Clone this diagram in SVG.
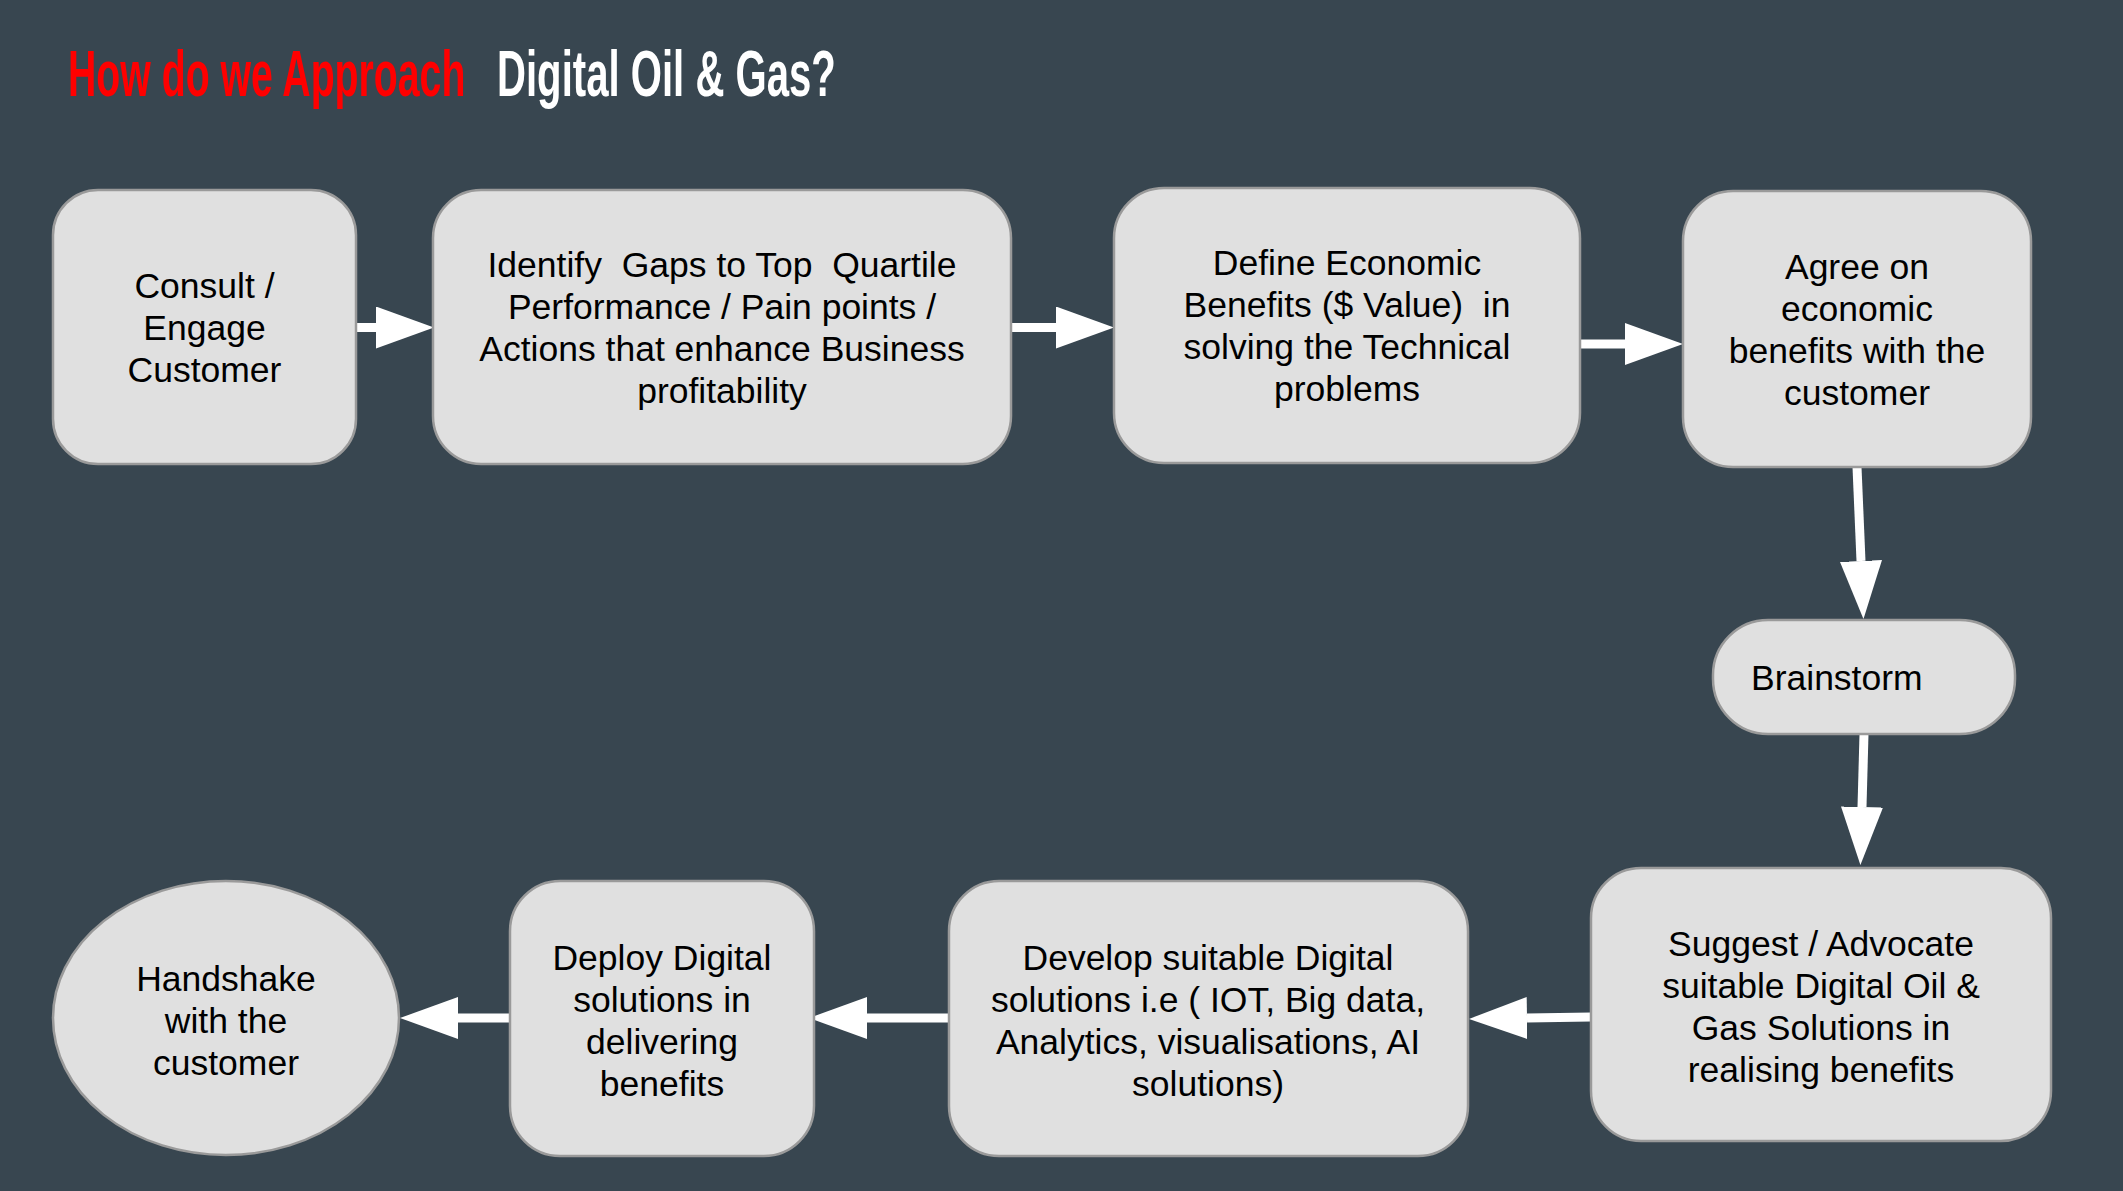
<svg xmlns="http://www.w3.org/2000/svg" width="2123" height="1191" viewBox="0 0 2123 1191">
<defs>
<style>
.bg{fill:#384650}
.node{fill:#e0e0e0;stroke:#9a9a9a;stroke-width:2.5}
.lbl{font-family:"Liberation Sans",Arial,sans-serif;font-size:35.5px;fill:#000;text-anchor:middle;white-space:pre}
.title{font-family:"Liberation Sans",Arial,sans-serif;font-size:64px;font-weight:bold}
.conn{stroke:#fff;stroke-width:9;fill:none;marker-end:url(#head)}
</style>
<marker id="head" markerUnits="userSpaceOnUse" markerWidth="58" markerHeight="42" viewBox="0 0 58 42" refX="0" refY="21" orient="auto">
<path d="M0,0 L58,21 L0,42 z" fill="#fff"/>
</marker>
</defs>
<rect class="bg" x="0" y="0" width="2123" height="1191"/>
<g id="title">
<text class="title" transform="translate(68,96) scale(0.613,1)" x="0" y="0" fill="#ff0000">How do we Approach</text>
<text class="title" transform="translate(497,96) scale(0.627,1)" x="0" y="0" fill="#ffffff">Digital Oil &amp; Gas?</text>
</g>
<g id="connectors">
<path class="conn" d="M356,327.5 L376,327.5"/>
<path class="conn" d="M1011,327.5 L1056,327.5"/>
<path class="conn" d="M1580,344 L1625,344"/>
<path class="conn" d="M1857,467 L1861,561"/>
<path class="conn" d="M1864,734 L1862,807"/>
<path class="conn" d="M1591,1017 L1527,1018"/>
<path class="conn" d="M949,1018 L867,1018"/>
<path class="conn" d="M510,1018 L458,1018"/>
</g>
<g id="consult">
<rect class="node" x="53" y="190" width="303" height="274" rx="45"/>
<text class="lbl" x="204.5" y="298">Consult /</text>
<text class="lbl" x="204.5" y="340">Engage</text>
<text class="lbl" x="204.5" y="382">Customer</text>
</g>
<g id="identify">
<rect class="node" x="433" y="190" width="578" height="274" rx="48"/>
<text class="lbl" x="722" y="277">Identify  Gaps to Top  Quartile</text>
<text class="lbl" x="722" y="319">Performance / Pain points /</text>
<text class="lbl" x="722" y="361">Actions that enhance Business</text>
<text class="lbl" x="722" y="403">profitability</text>
</g>
<g id="define">
<rect class="node" x="1114" y="188" width="466" height="275" rx="50"/>
<text class="lbl" x="1347" y="275">Define Economic</text>
<text class="lbl" x="1347" y="317">Benefits ($ Value)  in</text>
<text class="lbl" x="1347" y="359">solving the Technical</text>
<text class="lbl" x="1347" y="401">problems</text>
</g>
<g id="agree">
<rect class="node" x="1683" y="191" width="348" height="276" rx="50"/>
<text class="lbl" x="1857" y="279">Agree on</text>
<text class="lbl" x="1857" y="321">economic</text>
<text class="lbl" x="1857" y="363">benefits with the</text>
<text class="lbl" x="1857" y="405">customer</text>
</g>
<g id="brainstorm">
<rect class="node" x="1713" y="620" width="302" height="114" rx="55"/>
<text class="lbl" x="1751" y="690" style="text-anchor:start">Brainstorm</text>
</g>
<g id="suggest">
<rect class="node" x="1591" y="868" width="460" height="273" rx="50"/>
<text class="lbl" x="1821" y="956">Suggest / Advocate</text>
<text class="lbl" x="1821" y="998">suitable Digital Oil &amp;</text>
<text class="lbl" x="1821" y="1040">Gas Solutions in</text>
<text class="lbl" x="1821" y="1082">realising benefits</text>
</g>
<g id="develop">
<rect class="node" x="949" y="881" width="519" height="275" rx="50"/>
<text class="lbl" x="1208" y="970">Develop suitable Digital</text>
<text class="lbl" x="1208" y="1012">solutions i.e ( IOT, Big data,</text>
<text class="lbl" x="1208" y="1054">Analytics, visualisations, AI</text>
<text class="lbl" x="1208" y="1096">solutions)</text>
</g>
<g id="deploy">
<rect class="node" x="510" y="881" width="304" height="275" rx="50"/>
<text class="lbl" x="662" y="970">Deploy Digital</text>
<text class="lbl" x="662" y="1012">solutions in</text>
<text class="lbl" x="662" y="1054">delivering</text>
<text class="lbl" x="662" y="1096">benefits</text>
</g>
<g id="handshake">
<ellipse class="node" cx="226" cy="1018" rx="173" ry="137"/>
<text class="lbl" x="226" y="991">Handshake</text>
<text class="lbl" x="226" y="1033">with the</text>
<text class="lbl" x="226" y="1075">customer</text>
</g>
</svg>
